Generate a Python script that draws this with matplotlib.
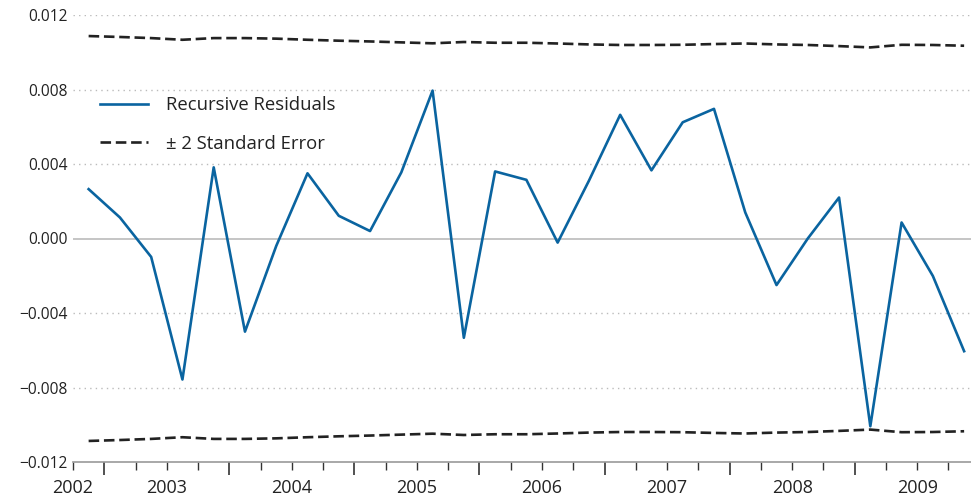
import matplotlib
matplotlib.use('Agg')
import matplotlib.pyplot as plt
import numpy as np

plt.rcParams['font.family'] = ['Open Sans', 'DejaVu Sans']

# quarterly, 2002Q4 .. 2009Q4
years = [2002, 2003, 2004, 2005, 2006, 2007, 2008, 2009]
residuals = [0.00265, 0.00113, -0.00099, -0.00757, 0.00382, -0.00500, -0.00040,
             0.00350, 0.00122, 0.00040, 0.00355, 0.00794, -0.00533, 0.00360,
             0.00315, -0.00022, 0.00310, 0.00664, 0.00366, 0.00624, 0.00696,
             0.00140, -0.00250, 0.00000, 0.00220, -0.01008, 0.00086, -0.00201,
             -0.00605]
std_err2 = [0.01087, 0.01082, 0.01076, 0.01067, 0.01076, 0.01076, 0.01073,
            0.01067, 0.01062, 0.01058, 0.01053, 0.01048, 0.01055, 0.01051,
            0.01051, 0.01047, 0.01042, 0.01039, 0.01039, 0.01040, 0.01044,
            0.01047, 0.01042, 0.01039, 0.01033, 0.01026, 0.01040, 0.01039,
            0.01035]

blue = '#0a64a0'
x = np.arange(len(residuals))
se = np.array(std_err2)

fig = plt.figure(figsize=(9.71, 5.01), dpi=100)
ax = fig.add_axes([73 / 971, 39 / 501, 898 / 971, 447 / 501])

ax.plot(x, residuals, color=blue, lw=1.9, label='Recursive Residuals', zorder=3)
ax.plot(x, se, color='#222222', lw=1.9, dashes=(4, 1.8), label='\u00b1 2 Standard Error', zorder=3)
ax.plot(x, -se, color='#222222', lw=1.9, dashes=(4, 1.8), zorder=3)

ax.set_ylim(-0.012, 0.012)
ax.set_xlim(-0.5, 28.22)
yt = [-0.012, -0.008, -0.004, 0.0, 0.004, 0.008, 0.012]
ax.set_yticks(yt)
ax.set_yticklabels([('\u2212' if v < 0 else '') + '%.3f' % abs(v) for v in yt])
ax.tick_params(axis='y', length=0, labelsize=11.2, pad=4, colors='#222222')
for v in yt:
    if v == 0.0:
        ax.axhline(0, color='#bbbbbb', lw=1.2, zorder=1)
    elif v > -0.012:
        ax.axhline(v, color='#bbbbbb', lw=1.0, ls=(0, (1, 3)), zorder=1)

for s in ['top', 'right', 'left']:
    ax.spines[s].set_visible(False)
ax.spines['bottom'].set_color('#999999')
ax.spines['bottom'].set_linewidth(1.2)

# year boundaries long ticks, quarters short ticks
ax.set_xticks(np.arange(0.5, 28.3, 4))
ax.set_xticks(np.arange(-0.5, 28.3, 1), minor=True)
ax.tick_params(axis='x', which='major', length=9, width=1.2, color='#333333', labelbottom=False)
ax.tick_params(axis='x', which='minor', length=5.5, width=1.0, color='#333333')

trans = ax.get_xaxis_transform()
for i, yr in enumerate(years):
    xp = -0.5 if i == 0 else 0.5 + 4 * (i - 1) + 2
    ax.text(xp, -0.058, str(yr), transform=trans, ha='center', va='center',
            fontsize=13, color='#222222')

leg = ax.legend(loc='upper left', bbox_to_anchor=(0.030, 0.818), frameon=False,
                fontsize=13.3, handlelength=2.6, handletextpad=1.0, labelspacing=1.1,
                borderpad=0, borderaxespad=0)
for t in leg.get_texts():
    t.set_color('#222222')

fig.savefig('out.png', dpi=100)
